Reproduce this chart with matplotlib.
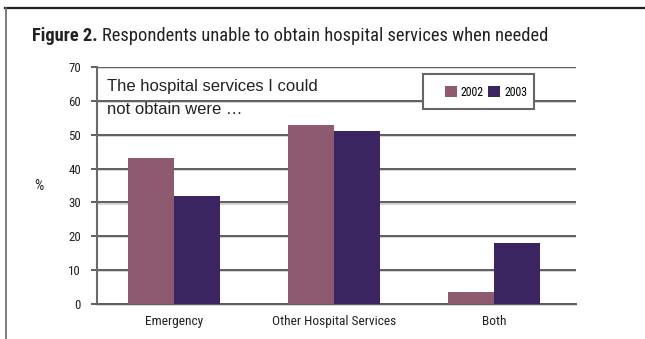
import matplotlib
matplotlib.use('Agg')
import matplotlib.pyplot as plt
import matplotlib.patheffects as pe
from matplotlib.patches import Rectangle
from matplotlib.lines import Line2D
import numpy as np

# chart data
categories = ['Emergency', 'Other Hospital Services', 'Both']
years = ['2002', '2003']
values_2002 = [43, 53, 3.5]
values_2003 = [32, 51, 18]
yticks = [0, 10, 20, 30, 40, 50, 60, 70]

colors = ['#8e5a6f', '#3a2560']
grid_col = '#5e5e5e'
narrow = ['Roboto Condensed', 'Liberation Sans Narrow', 'DejaVu Sans']

W, H = 645, 339
fig = plt.figure(figsize=(W / 100, H / 100), dpi=100)

def fx(px):
    return px / W

def fy(py):
    return 1 - py / H

# frame lines around the figure
fig.add_artist(Line2D([fx(5), 1], [fy(8), fy(8)], color='#222222', lw=1.6))
fig.add_artist(Line2D([fx(6), fx(6)], [fy(8), 0], color='#666666', lw=1.2))

ax = fig.add_axes([fx(97), fy(304), fx(576 - 97), (304 - 67) / H])
x = np.arange(len(categories))
w = 0.2875
b1 = ax.bar(x - w / 2, values_2002, w, color=colors[0], zorder=3, label=years[0])
b2 = ax.bar(x + w / 2, values_2003, w, color=colors[1], zorder=3, label=years[1])

ax.set_xlim(-0.48, 2.51)
ax.set_ylim(0, 70)
ax.set_yticks(yticks)
ax.set_xticks(x)
ax.set_xticklabels(categories, family=narrow, fontsize=9.6, color='#222222')
ax.set_yticklabels([str(t) for t in yticks], family=narrow, fontsize=9.3, color='#222222')
ax.tick_params(axis='x', length=0, pad=8)
ax.tick_params(axis='y', length=4.5, width=1.4, color=grid_col, pad=7)

for s in ['top', 'right']:
    ax.spines[s].set_visible(False)
ax.spines['left'].set_color('#6a6a6a')
ax.spines['left'].set_linewidth(1.5)
ax.spines['bottom'].set_color(grid_col)
ax.spines['bottom'].set_linewidth(1.4)

ax.yaxis.grid(True, color=grid_col, lw=1.4, zorder=1)
ax.set_axisbelow(True)
shadow = [pe.SimpleLineShadow(offset=(0, -0.8), shadow_color='#d4d4d4', alpha=1), pe.Normal()]
for gl in ax.yaxis.get_gridlines():
    gl.set_path_effects(shadow)
ax.spines['bottom'].set_path_effects(shadow)

fig.text(fx(39), fy(186), '%', family=narrow, fontsize=10.5, ha='center', va='center',
         color='#222222')

# title
t1 = fig.text(fx(32), fy(41), 'Figure 2.', family=narrow, weight='bold', fontsize=13.3,
              va='baseline', color='#222222')
fig.canvas.draw()
bb = t1.get_window_extent()
fig.text(fx(bb.x1 + 4), fy(41), 'Respondents unable to obtain hospital services when needed',
         family=narrow, fontsize=13.3, va='baseline', color='#222222')

# note inside the plot
fig.text(fx(107), fy(87), 'The hospital services I could', family=['Liberation Sans'],
         fontsize=12, va='center', color='#222222')
fig.text(fx(107), fy(110), 'not obtain were \u2026', family=['Liberation Sans'],
         fontsize=12, va='center', color='#222222')

# legend box
fig.add_artist(Rectangle((fx(423), fy(109)), fx(534 - 423), (109 - 74) / H,
                         transform=fig.transFigure, facecolor='white',
                         edgecolor='#666666', lw=1.5, zorder=5))
leg = fig.legend(handles=[b1, b2], loc='center',
                 bbox_to_anchor=(fx((440 + 532) / 2), fy(92)), ncol=2, frameon=False,
                 handlelength=1.0, handleheight=1.0, columnspacing=0.4,
                 handletextpad=0.35, prop={'family': narrow, 'size': 8.5})
leg.set_zorder(6)

fig.savefig('out.png', dpi=100)
